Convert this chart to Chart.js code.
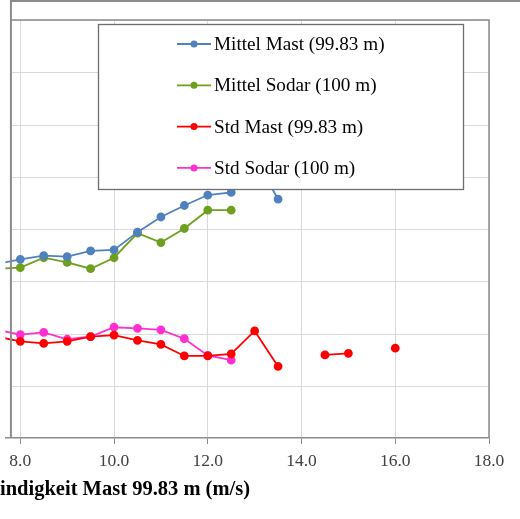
<!DOCTYPE html>
<html>
<head>
<meta charset="utf-8">
<script src="https://cdn.jsdelivr.net/npm/chart.js@4.4.1/dist/chart.umd.min.js"></script>
<style>
  html, body { margin: 0; padding: 0; background: #fff; }
  #wrap { width: 520px; height: 519px; overflow: hidden; }
</style>
</head>
<body>
<div id="wrap"><canvas id="chart" width="520" height="519"></canvas></div>
<script>
// wind speed bins (m/s), the chart is cut off on the left
const windSpeed   = [7.5, 8.0, 8.5, 9.0, 9.5, 10.0, 10.5, 11.0, 11.5, 12.0, 12.5, 13.0, 13.5, 14.0, 14.5, 15.0, 15.5, 16.0];
const mittelMast  = [3.33, 3.42, 3.49, 3.47, 3.58, 3.60, 3.94, 4.23, 4.45, 4.65, 4.70, 5.37, 4.57, null, null, null, null, null];
const mittelSodar = [3.24, 3.26, 3.45, 3.36, 3.24, 3.45, 3.92, 3.74, 4.01, 4.36, 4.36, null, null, null, null, null, null, null];
const stdMast     = [1.94, 1.85, 1.81, 1.85, 1.94, 1.97, 1.87, 1.79, 1.57, 1.57, 1.61, 2.05, 1.37, null, 1.59, 1.62, null, 1.72];
const stdSodar    = [2.07, 1.98, 2.02, 1.89, 1.94, 2.12, 2.10, 2.07, 1.90, 1.58, 1.49, null, null, null, null, null, null, null];
const xTicks = [8, 10, 12, 14, 16, 18];
const xTitle = 'Windgeschwindigkeit Mast 99.83 m (m/s)';

const serif = '"Liberation Serif", "Times New Roman", serif';
const axisGray = '#8c8c8c';
const gridGray = '#d9d9d9';

function points(values) {
    return windSpeed.map((x, i) => ({ x: x, y: values[i] }));
}

function series(label, values, color) {
    return {
        label: label,
        data: points(values),
        borderColor: color,
        backgroundColor: color,
        borderWidth: 1.8,
        pointRadius: 3.5,
        pointHoverRadius: 3.5,
        spanGaps: false
    };
}

// frame lines, grid, legend box and axis title like the Excel original
const excelLook = {
    id: 'excelLook',
    beforeDatasetsDraw(chart) {
        const { ctx, chartArea, scales } = chart;
        const left = scales.x.getPixelForValue(7.8);
        ctx.save();
        ctx.strokeStyle = gridGray;
        ctx.lineWidth = 1;
        scales.y.ticks.forEach(t => {
            const y = Math.round(scales.y.getPixelForValue(t.value)) + 0.5;
            if (t.value === 0) return;
            ctx.beginPath();
            ctx.moveTo(left, y);
            ctx.lineTo(chartArea.right, y);
            ctx.stroke();
        });
        ctx.restore();
    },
    afterDraw(chart) {
        const { ctx, chartArea, scales, width } = chart;
        const left = scales.x.getPixelForValue(7.8);
        ctx.save();
        ctx.strokeStyle = axisGray;
        ctx.lineWidth = 2;
        ctx.beginPath();
        ctx.moveTo(left, 0);
        ctx.lineTo(left, chartArea.bottom);
        ctx.moveTo(left, 1);
        ctx.lineTo(width, 1);
        ctx.stroke();
        ctx.lineWidth = 1.5;
        ctx.beginPath();
        ctx.moveTo(left, chartArea.top);
        ctx.lineTo(chartArea.right, chartArea.top);
        ctx.lineTo(chartArea.right, chartArea.bottom);
        ctx.stroke();

        // legend
        const box = { left: 98, top: 24, right: 463, bottom: 189 };
        ctx.fillStyle = '#ffffff';
        ctx.fillRect(box.left, box.top, box.right - box.left, box.bottom - box.top);
        ctx.strokeStyle = '#6e6e6e';
        ctx.lineWidth = 1.3;
        ctx.strokeRect(box.left + 0.5, box.top + 0.5, box.right - box.left, box.bottom - box.top);
        ctx.font = '19.2px ' + serif;
        ctx.textBaseline = 'middle';
        ctx.textAlign = 'left';
        chart.data.datasets.forEach((ds, i) => {
            const y = box.top + 20 + i * 41.3;
            ctx.strokeStyle = ds.borderColor;
            ctx.lineWidth = 1.8;
            ctx.beginPath();
            ctx.moveTo(177, y);
            ctx.lineTo(211, y);
            ctx.stroke();
            ctx.fillStyle = ds.borderColor;
            ctx.beginPath();
            ctx.arc(194, y, 3.5, 0, Math.PI * 2);
            ctx.fill();
            ctx.fillStyle = '#000000';
            ctx.fillText(ds.label, 214, y + 1);
        });

        // axis title, only its right part is visible
        ctx.font = 'bold 20.5px ' + serif;
        ctx.fillStyle = '#000000';
        ctx.textAlign = 'right';
        ctx.textBaseline = 'middle';
        ctx.fillText(xTitle, 250, 490);
        ctx.restore();
    }
};

new Chart(document.getElementById('chart'), {
    type: 'line',
    data: {
        datasets: [
            series('Mittel Mast (99.83 m)', mittelMast, '#4f81bd'),
            series('Mittel Sodar (100 m)', mittelSodar, '#6f9f1e'),
            series('Std Mast (99.83 m)', stdMast, '#ff0000'),
            series('Std Sodar (100 m)', stdSodar, '#ff2fd0')
        ]
    },
    options: {
        responsive: false,
        animation: false,
        layout: { padding: { top: 20, right: 31, left: -7, bottom: 40 } },
        plugins: {
            legend: { display: false },
            tooltip: { enabled: false }
        },
        scales: {
            x: {
                type: 'linear',
                min: 7.68,
                max: 18,
                afterBuildTicks: scale => {
                    scale.ticks = xTicks.map(v => ({ value: v }));
                },
                grid: {
                    color: gridGray,
                    tickColor: axisGray,
                    tickLength: 6
                },
                border: { display: true, color: axisGray, width: 1.5 },
                ticks: {
                    padding: 7,
                    color: '#404040',
                    font: { family: serif, size: 17.5 },
                    maxRotation: 0,
                    callback: v => Number(v).toFixed(1)
                }
            },
            y: {
                min: 0,
                max: 8,
                ticks: { display: false, stepSize: 1 },
                grid: { display: false },
                border: { display: false }
            }
        }
    },
    plugins: [excelLook]
});
</script>
</body>
</html>
